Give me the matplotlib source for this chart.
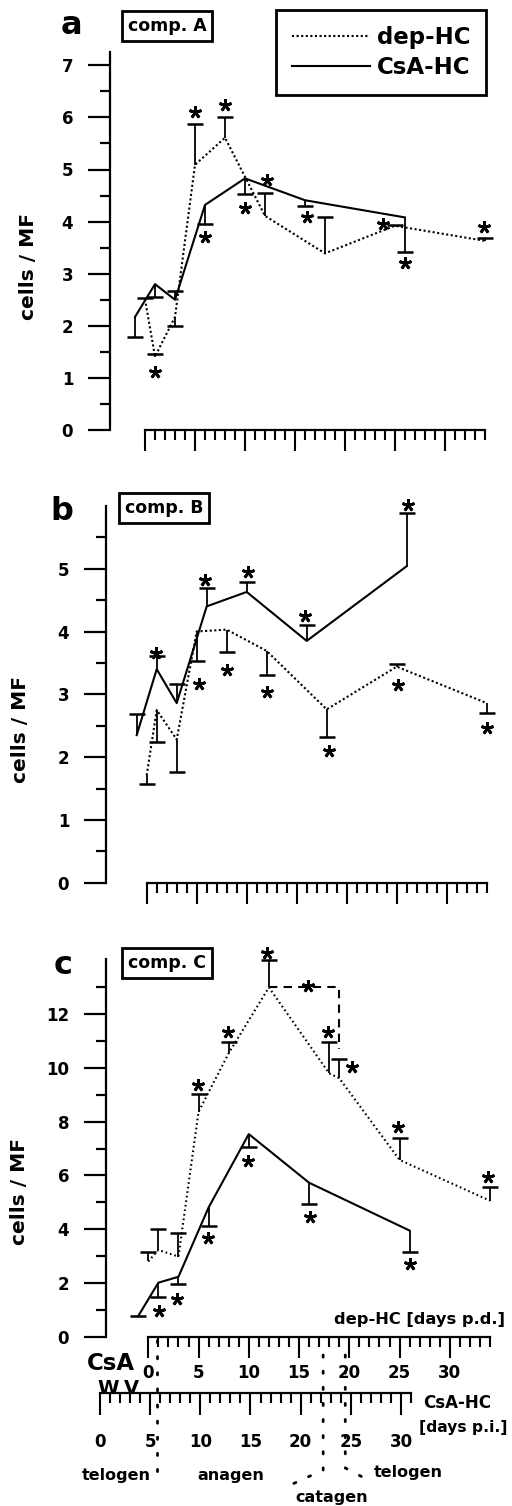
import matplotlib.pyplot as plt
from matplotlib.lines import Line2D
from matplotlib.ticker import FixedLocator
from matplotlib.transforms import Affine2D

plt.rcParams['font.family'] = ['DejaVu Sans']
plt.rcParams['font.weight'] = 'bold'

# ---- data ----
csa_days = [4, 6, 8, 11, 15, 21, 31]        # CsA-HC, days p.i.
csa_shift = 5                               # CsA day 5 ~ dep day 0
dep_days = [0, 1, 3, 5, 8, 12, 18, 25, 34]  # dep-HC, days p.d.
dep_days_c = [0, 1, 3, 5, 8, 12, 18, 19, 25, 34]

# comp. A  (values and error-bar ends)
a_dep = [2.51, 1.41, 2.17, 5.09, 5.61, 4.11, 3.39, 3.92, 3.63]
a_dep_bar = [2.53, 1.46, 2.00, 5.87, 6.01, 4.54, 4.08, 3.93, 3.69]
a_csa = [2.17, 2.80, 2.50, 4.32, 4.83, 4.41, 4.08]
a_csa_bar = [1.79, 2.56, 2.67, 3.95, 4.53, 4.30, 3.42]
a_star_x = [1, 5, 8, 6, 10, 12.2, 16.2, 23.8, 26, 33.9]
a_star_y = [1.12, 6.11, 6.24, 3.71, 4.27, 4.79, 4.08, 3.95, 3.20, 3.89]

# comp. B
b_dep = [1.71, 2.75, 2.28, 4.00, 4.03, 3.69, 2.76, 3.44, 2.86]
b_dep_bar = [1.57, 2.24, 1.77, 3.53, 3.67, 3.31, 2.32, 3.48, 2.70]
b_csa = [2.35, 3.40, 2.86, 4.40, 4.63, 3.85, 5.04]
b_csa_bar = [2.69, 3.61, 3.16, 4.69, 4.79, 4.11, 5.89]
b_star_x = [0.95, 5.8, 10.1, 15.8, 26.1, 5.2, 8.0, 12.0, 18.2, 25.1, 34.0]
b_star_y = [3.66, 4.82, 4.95, 4.24, 6.01, 3.16, 3.39, 3.04, 2.09, 3.15, 2.47]

# comp. C
c_dep = [2.80, 3.23, 2.98, 8.37, 10.55, 13.0, 9.80, 9.62, 6.58, 5.06]
c_dep_bar = [3.16, 4.00, 3.85, 9.03, 10.98, 14.02, 10.98, 10.32, 7.38, 5.58]
c_csa = [0.77, 2.01, 2.23, 4.81, 7.54, 5.73, 3.95]
c_csa_bar = [0.77, 1.47, 1.95, 4.13, 7.05, 4.94, 3.16]
c_star_x = [1.1, 2.9, 5.9, 9.95, 16.1, 26.0, 4.9, 7.9, 11.8, 17.9, 20.3, 24.8, 33.8, 15.9]
c_star_y = [0.97, 1.42, 3.66, 6.54, 4.47, 2.70, 9.37, 11.35, 14.27, 11.35, 10.03, 7.82, 5.95, 13.05]

phase_days = [0.87, 17.4, 19.6]   # telogen/anagen/catagen/telogen borders (dep days)
phase_names = ['telogen', 'anagen', 'catagen', 'telogen']

# ---- layout (pixel geometry) ----
W, H = 512, 1506
RIGHT = 505
fig = plt.figure(figsize=(W / 100, H / 100), dpi=100)
px = Affine2D().scale(1 / W, -1 / H).translate(0, 1) + fig.transFigure

geoms = [
    dict(spine=110, day0=145, ppd=10.0, zero=430, ppu=52.1, top=40, ytop=7.26,
         major=list(range(0, 8)), minor=[i + 0.5 for i in range(7)]),
    dict(spine=106, day0=146.7, ppd=10.0, zero=882.7, ppu=62.8, top=500, ytop=6.0,
         major=list(range(0, 6)), minor=[i + 0.5 for i in range(6)]),
    dict(spine=106, day0=148.3, ppd=10.05, zero=1336.7, ppu=26.87, top=950, ytop=14.06,
         major=list(range(0, 13, 2)), minor=list(range(1, 14, 2))),
]


def make_panel(g, xlabels=False):
    ax = fig.add_axes([g['spine'] / W, 1 - g['zero'] / H,
                       (RIGHT - g['spine']) / W, (g['zero'] - g['top']) / H])
    ax.set_xlim((g['spine'] - g['day0']) / g['ppd'], (RIGHT - g['day0']) / g['ppd'])
    ax.set_ylim(0, (g['zero'] - g['top']) / g['ppu'])
    ax.patch.set_visible(False)
    ax.spines['top'].set_visible(False)
    ax.spines['right'].set_visible(False)
    ax.spines['left'].set_bounds(0, g['ytop'])
    ax.spines['bottom'].set_bounds(0, 34)
    ax.spines['left'].set_linewidth(1.6)
    ax.spines['bottom'].set_linewidth(1.6)
    ax.xaxis.set_major_locator(FixedLocator(range(0, 31, 5)))
    ax.xaxis.set_minor_locator(FixedLocator(range(0, 35)))
    ax.yaxis.set_major_locator(FixedLocator(g['major']))
    ax.yaxis.set_minor_locator(FixedLocator(g['minor']))
    ax.tick_params(axis='x', which='major', direction='out', length=15, width=1.5,
                   labelsize=12, pad=5, labelbottom=xlabels)
    ax.tick_params(axis='x', which='minor', direction='out', length=7.5, width=1.5)
    ax.tick_params(axis='y', which='major', direction='out', length=15.5, width=1.6,
                   labelsize=12, pad=11)
    ax.tick_params(axis='y', which='minor', direction='out', length=7.5, width=1.6)
    return ax


def draw(ax, dx, dep, dep_bar, cx, csa, csa_bar, sx, sy, dots):
    l1, = ax.plot(dx, dep, color='k', lw=1.5, ls=dots, label='dep-HC', clip_on=False)
    l2, = ax.plot(cx, csa, color='k', lw=1.5, label='CsA-HC', clip_on=False)
    ax.vlines(dx, dep, dep_bar, color='k', lw=1.3)
    ax.vlines(cx, csa, csa_bar, color='k', lw=1.3)
    ax.plot(dx, dep_bar, ls='none', marker='_', ms=12, mew=1.8, color='k', clip_on=False)
    ax.plot(cx, csa_bar, ls='none', marker='_', ms=12, mew=1.8, color='k', clip_on=False)
    ax.plot(sx, sy, ls='none', marker=(5, 2, 0), ms=9, mew=2, color='k', clip_on=False)
    return l1, l2


csa_x = [d - csa_shift for d in csa_days]

ax_a = make_panel(geoms[0])
la, lb = draw(ax_a, dep_days, a_dep, a_dep_bar, csa_x, a_csa, a_csa_bar,
              a_star_x, a_star_y, (0, (1, 1.2)))
ax_b = make_panel(geoms[1])
draw(ax_b, dep_days, b_dep, b_dep_bar, csa_x, b_csa, b_csa_bar,
     b_star_x, b_star_y, (0, (1, 1.2)))
ax_c = make_panel(geoms[2], xlabels=True)
draw(ax_c, dep_days_c, c_dep, c_dep_bar, csa_x, c_csa, c_csa_bar,
     c_star_x, c_star_y, (0, (0.8, 1.4)))

# bracket between peak and day-19 value in comp. C
ax_c.plot([dep_days_c[5], dep_days_c[7], dep_days_c[7]],
          [c_dep[5], c_dep[5], c_dep_bar[7] + 0.4],
          color='k', lw=1.5, ls=(0, (4, 3)), clip_on=False)

# legend
leg = ax_a.legend(handles=[la, lb], loc='upper left', bbox_to_anchor=(276 / W, 1 - 10 / H),
                  bbox_transform=fig.transFigure, borderaxespad=0, fontsize=16.5,
                  handlelength=3.4, handletextpad=0.3, borderpad=0.7, labelspacing=0.32,
                  frameon=True, fancybox=False, edgecolor='k', framealpha=1)
leg.get_frame().set_linewidth(2)

# panel letters, boxes, y labels
for letter, (lx, ly) in zip('abc', [(71, 26), (62, 512), (63, 966)]):
    fig.text(lx, ly, letter, transform=px, fontsize=23, ha='center', va='center')
for name, (bx, by) in zip(['comp. A', 'comp. B', 'comp. C'], [(167, 26), (164, 508), (167, 963)]):
    fig.text(bx, by, name, transform=px, fontsize=12.5, ha='center', va='center',
             bbox=dict(boxstyle='square,pad=0.35', fc='white', ec='k', lw=2))
for yx, yy in [(28, 267), (21, 730), (20, 1192)]:
    fig.text(yx, yy, 'cells / MF', transform=px, fontsize=14.5, rotation=90,
             ha='center', va='center')

# second (CsA-HC) day axis under panel c
ax_d = fig.add_axes([100 / W, 1 - 1393.3 / H, 311 / W, 0.0005])
ax_d.set_xlim(0, 31)
ax_d.patch.set_visible(False)
for s in ['top', 'right', 'left']:
    ax_d.spines[s].set_visible(False)
ax_d.spines['bottom'].set_linewidth(1.6)
ax_d.set_yticks([])
ax_d.xaxis.set_major_locator(FixedLocator(range(0, 31, 5)))
ax_d.xaxis.set_minor_locator(FixedLocator(range(0, 32)))
ax_d.tick_params(axis='x', which='major', direction='out', length=15.5, width=1.5,
                 labelsize=12, pad=13)
ax_d.tick_params(axis='x', which='minor', direction='out', length=7.5, width=1.5)

fig.text(505, 1320, 'dep-HC [days p.d.]', transform=px, fontsize=11.7, ha='right', va='center')
fig.text(423, 1403, 'CsA-HC', transform=px, fontsize=12, ha='left', va='center')
fig.text(419, 1428, '[days p.i.]', transform=px, fontsize=11.2, ha='left', va='center')
fig.text(111, 1364, 'CsA', transform=px, fontsize=16.5, ha='center', va='center')
fig.text(108, 1394, 'W', transform=px, fontsize=14, ha='center', va='baseline')
fig.text(131, 1394, 'V', transform=px, fontsize=14, ha='center', va='baseline')

# phase borders (dotted)
g = geoms[2]
bx = [g['day0'] + d * g['ppd'] for d in phase_days]
dot = dict(color='k', lw=2, ls=(0, (0.8, 5)), transform=px, dash_capstyle='round')
fig.add_artist(Line2D([bx[0], bx[0]], [1340, 1478], **dot))
fig.add_artist(Line2D([bx[1], bx[1], bx[1] - 35], [1355, 1470, 1486], **dot))
fig.add_artist(Line2D([bx[2], bx[2], bx[2] + 19], [1355, 1468, 1478], **dot))
for name, (tx, ty) in zip(phase_names, [(116, 1476), (231, 1476), (332, 1498), (408, 1473)]):
    fig.text(tx, ty, name, transform=px, fontsize=11.5, ha='center', va='center')

fig.savefig('out.png', dpi=100, facecolor='white')
